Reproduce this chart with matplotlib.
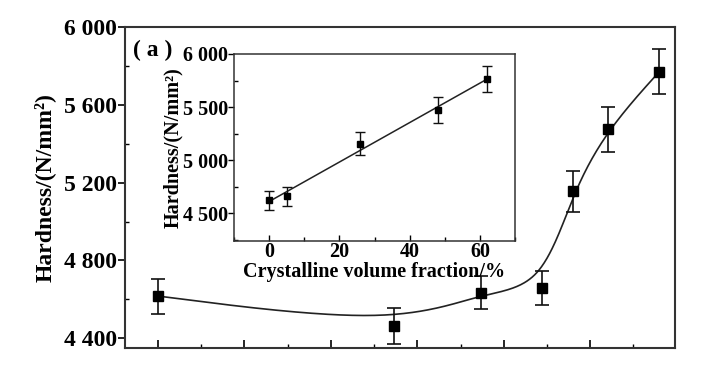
import numpy as np
import matplotlib
matplotlib.use("Agg")
from matplotlib import pyplot as plt
from matplotlib.ticker import MultipleLocator

plt.rcParams['font.family'] = ['Liberation Serif', 'DejaVu Serif']
plt.rcParams['font.weight'] = 'bold'

# main plot: hardness of the films (x axis unlabelled in the original)
x_main = [100, 373, 474, 544, 580, 620, 680]
hard_main = [4617, 4463, 4634, 4660, 5155, 5475, 5771]
err_main = [90, 94, 84, 87, 104, 115, 115]
main_yticks = [4400, 4800, 5200, 5600, 6000]
main_ylabels = ['4 400', '4 800', '5 200', '5 600', '6 000']

# inset: hardness vs crystalline volume fraction
frac = [0, 5, 26, 48, 62]
hard_inset = [4623, 4660, 5157, 5472, 5764]
err_inset = [90, 90, 105, 120, 123]
inset_xticks = [0, 20, 40, 60]
inset_yticks = [4500, 5000, 5500, 6000]
inset_ylabels = ['4 500', '5 000', '5 500', '6 000']


def bspline(xs, ys, n=60):
    # uniform cubic B-spline using the data points as control points
    P = np.column_stack([xs, ys]).astype(float)
    P = np.vstack([P[0], P[0], P, P[-1], P[-1]])
    t = np.linspace(0, 1, n)[:, None]
    b0 = (1 - t) ** 3 / 6
    b1 = (3 * t**3 - 6 * t**2 + 4) / 6
    b2 = (-3 * t**3 + 3 * t**2 + 3 * t + 1) / 6
    b3 = t**3 / 6
    segs = [b0 * P[i] + b1 * P[i + 1] + b2 * P[i + 2] + b3 * P[i + 3]
            for i in range(len(P) - 3)]
    c = np.vstack(segs)
    return c[:, 0], c[:, 1]


fig = plt.figure(figsize=(7.16, 3.66), dpi=100)
ax = fig.add_axes([0.1746, 0.0492, 0.7681, 0.877])

cx, cy = bspline(x_main, hard_main)
ax.plot(cx, cy, color='#222222', lw=1.2)
ax.errorbar(x_main, hard_main, yerr=err_main, fmt='s', color='black',
            markersize=6.5, ecolor='#111111', elinewidth=1.2, capsize=5,
            capthick=1.2)

ax.set_xlim(62, 698)
ax.set_ylim(4350, 6000)
ax.set_yticks(main_yticks)
ax.set_yticklabels(main_ylabels)
ax.yaxis.set_minor_locator(MultipleLocator(200))
ax.xaxis.set_major_locator(MultipleLocator(100))
ax.xaxis.set_minor_locator(MultipleLocator(50))
ax.tick_params(axis='y', which='major', direction='out', length=5, width=1.2,
               labelsize=17, pad=1)
ax.tick_params(axis='y', which='minor', direction='in', length=3, width=1)
ax.tick_params(axis='x', which='major', direction='in', length=6, width=1.2,
               labelbottom=False)
ax.tick_params(axis='x', which='minor', direction='in', length=3, width=1)
ax.set_ylabel('Hardness/(N/mm²)', fontsize=17, fontweight='bold', labelpad=6)
for s in ax.spines.values():
    s.set_linewidth(1.5)
    s.set_color('#333333')
ax.text(0.051, 0.928, '( a )', transform=ax.transAxes, fontsize=17,
        fontweight='bold', ha='center', va='center')

# inset
axi = fig.add_axes([0.3268, 0.3415, 0.3925, 0.511])
fit = np.polyfit(frac, hard_inset, 1)
fx = np.array([min(frac), max(frac)])
axi.plot(fx, np.polyval(fit, fx), color='#222222', lw=1.1)
axi.errorbar(frac, hard_inset, yerr=err_inset, fmt='s', color='black',
             markersize=5, ecolor='#111111', elinewidth=1, capsize=3.5,
             capthick=1)
axi.set_xlim(-10, 70)
axi.set_ylim(4240, 6000)
axi.set_xticks(inset_xticks)
axi.set_yticks(inset_yticks)
axi.set_yticklabels(inset_ylabels)
axi.xaxis.set_minor_locator(MultipleLocator(10))
axi.yaxis.set_minor_locator(MultipleLocator(250))
axi.tick_params(axis='y', which='major', direction='out', length=4, width=1,
                labelsize=14.5, pad=0)
axi.tick_params(axis='y', which='minor', direction='in', length=3, width=1)
axi.tick_params(axis='x', which='major', direction='in', length=4, width=1,
                labelsize=14.5, pad=1)
axi.tick_params(axis='x', which='minor', direction='in', length=3, width=1)
axi.set_xlabel('Crystalline volume fraction/%', fontsize=14.5,
               fontweight='bold', labelpad=0)
axi.set_ylabel('Hardness/(N/mm²)', fontsize=14.5, fontweight='bold',
               labelpad=0)
for s in axi.spines.values():
    s.set_linewidth(1.1)
    s.set_color('#333333')

fig.savefig('out.png', dpi=100)
